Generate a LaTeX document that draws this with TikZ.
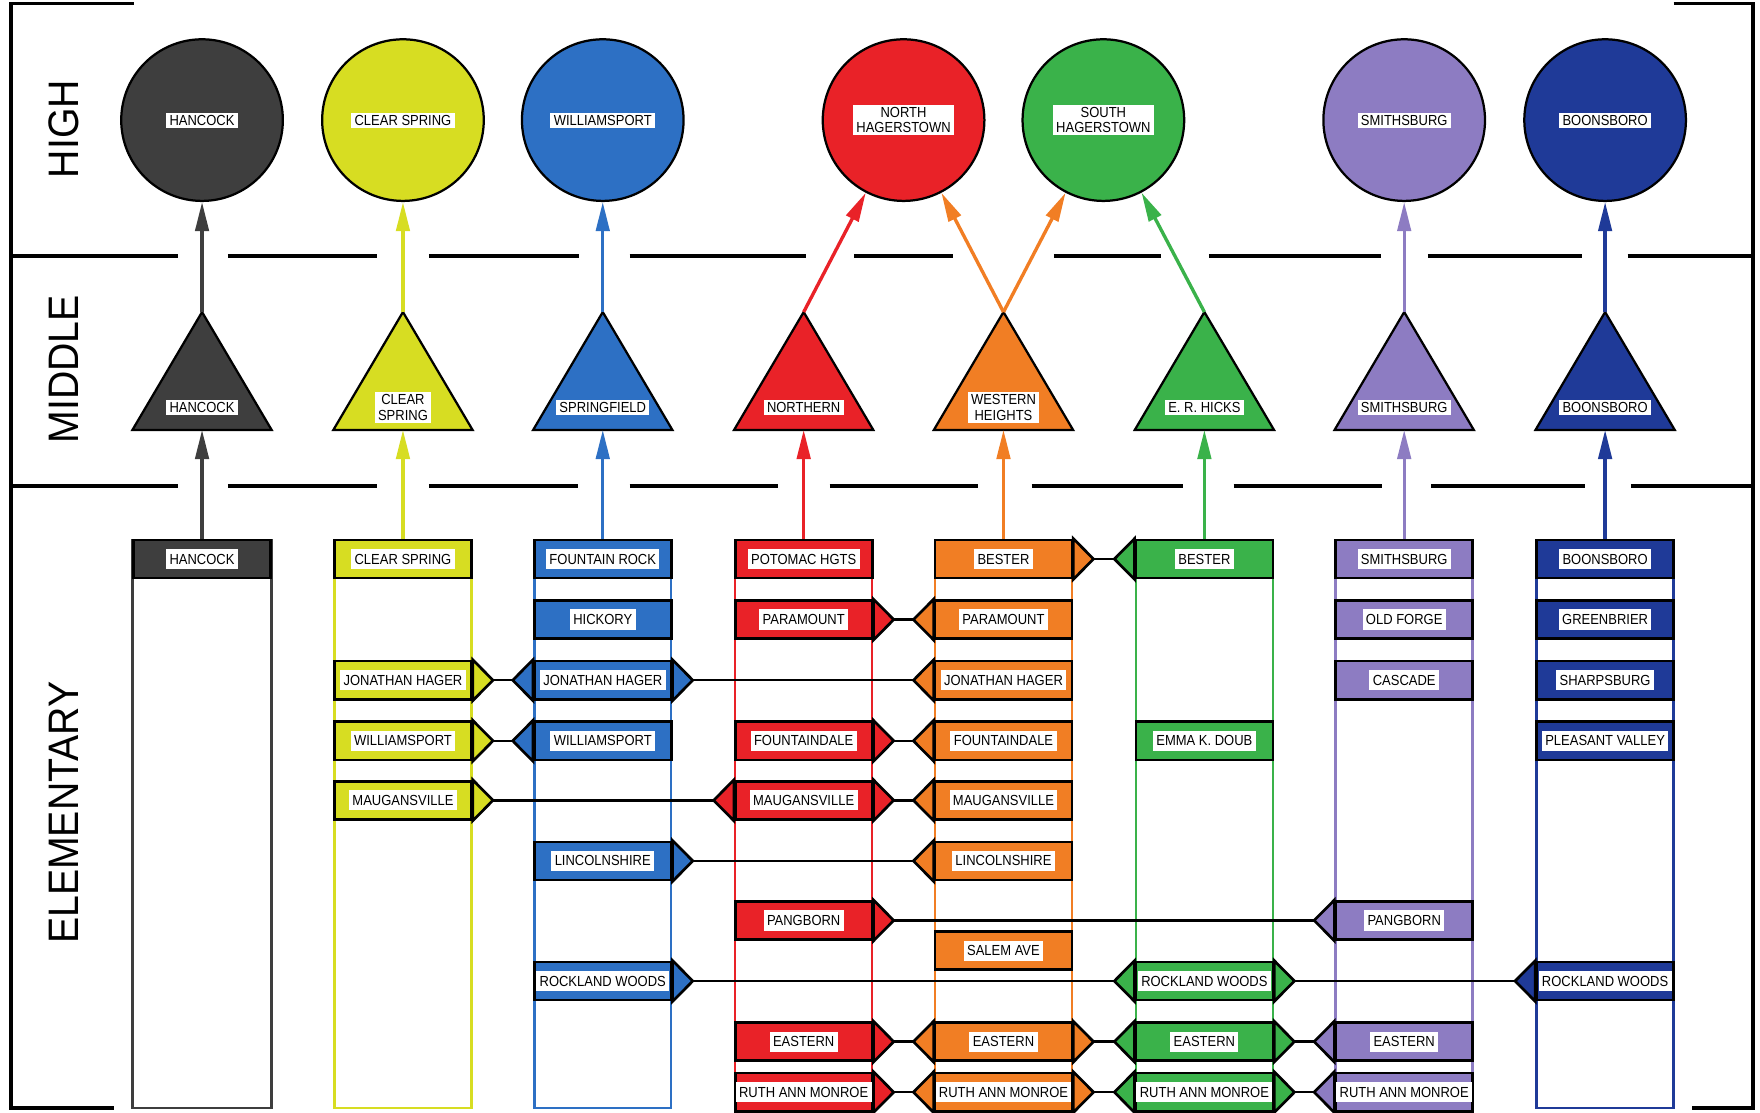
\documentclass[tikz,border=0pt]{standalone}
\usepackage{fontspec}
\setmainfont{Liberation Sans}
\newfontfamily\labfont[FakeStretch=0.89]{Liberation Sans}
\newfontfamily\bigfont[FakeStretch=0.92]{Liberation Sans}
\usetikzlibrary{arrows.meta,calc}

\definecolor{cHancock}{RGB}{62,62,62}
\definecolor{cClear}{RGB}{215,221,34}
\definecolor{cWill}{RGB}{45,112,196}
\definecolor{cNorth}{RGB}{233,34,40}
\definecolor{cWest}{RGB}{241,126,36}
\definecolor{cSouth}{RGB}{58,178,74}
\definecolor{cSmith}{RGB}{141,124,194}
\definecolor{cBoons}{RGB}{31,58,152}

\tikzset{every picture/.style={line width=0.75pt}}
\tikzset{
  sect/.style={line width=1.6pt},
  bigtext/.style={font=\bigfont\fontsize{19}{21}\selectfont, rotate=90, inner sep=0pt},
  hs/.style={circle, draw=black, line width=1pt, minimum size=72pt, inner sep=0pt},
  ms/.style={draw=black, line width=1pt, line join=miter},
  wl/.style={fill=white, inner xsep=1.5pt, inner ysep=1pt, align=center, font=\labfont\fontsize{6.5}{7}\selectfont},
  ewl/.style={wl, inner ysep=2.2pt},
  ebox/.style={draw=black, line width=1.2pt, minimum width=61pt, minimum height=17pt, inner sep=0pt},
  colframe/.style={line width=1.1pt},
  tipbox/.style={draw=black, line width=1.2pt, line join=miter},
  link/.style={draw=black, line width=1.1pt},
  up/.style={line width=1.5pt, -{Triangle[length=13pt,width=6pt]}}
}

\begin{document}
\begin{tikzpicture}[x=0.5pt,y=0.5pt,yscale=-1,xscale=1]
\useasboundingbox (0,0) rectangle (1568,991);
\clip (0,0) rectangle (1568,991);

\draw [sect] (119,3) -- (10,3) -- (10,987) -- (102,987) ;
\draw [sect] (1491,3) -- (1562,3) -- (1562,987) -- (1507,987) ;

\draw [sect] (10,228) -- (159,228) ;
\draw [sect] (203,228) -- (336,228) ;
\draw [sect] (382,228) -- (516,228) ;
\draw [sect] (561,228) -- (718,228) ;
\draw [sect] (761,228) -- (849,228) ;
\draw [sect] (939,228) -- (1034,228) ;
\draw [sect] (1077,228) -- (1230,228) ;
\draw [sect] (1272,228) -- (1409,228) ;
\draw [sect] (1450,228) -- (1562,228) ;

\draw [sect] (10,433) -- (159,433) ;
\draw [sect] (203,433) -- (336,433) ;
\draw [sect] (382,433) -- (515,433) ;
\draw [sect] (561,433) -- (693,433) ;
\draw [sect] (739,433) -- (871,433) ;
\draw [sect] (919,433) -- (1054,433) ;
\draw [sect] (1099,433) -- (1231,433) ;
\draw [sect] (1275,433) -- (1412,433) ;
\draw [sect] (1453,433) -- (1562,433) ;

\node [bigtext] (lHigh) at (57,115) {HIGH};
\node [bigtext] (lMiddle) at (57,329) {MIDDLE};
\node [bigtext] (lElementary) at (57,724) {ELEMENTARY};

\node [hs, fill=cHancock, label={[wl]center:HANCOCK}] (hsHancock) at (180,107) {};
\node [hs, fill=cClear, label={[wl]center:CLEAR SPRING}] (hsClear) at (359,107) {};
\node [hs, fill=cWill, label={[wl]center:WILLIAMSPORT}] (hsWill) at (537,107) {};
\node [hs, fill=cNorth, label={[wl]center:{NORTH\\HAGERSTOWN}}] (hsNorth) at (805,107) {};
\node [hs, fill=cSouth, label={[wl]center:{SOUTH\\HAGERSTOWN}}] (hsSouth) at (983,107) {};
\node [hs, fill=cSmith, label={[wl]center:SMITHSBURG}] (hsSmith) at (1251,107) {};
\node [hs, fill=cBoons, label={[wl]center:BOONSBORO}] (hsBoons) at (1430,107) {};

\coordinate (msHancockTop) at (180,278) ;
\coordinate (msHancockBase) at (180,383) ;
\coordinate (msClearTop) at (359,278) ;
\coordinate (msClearBase) at (359,383) ;
\coordinate (msSpringTop) at (537,278) ;
\coordinate (msSpringBase) at (537,383) ;
\coordinate (msNorthernTop) at (716,278) ;
\coordinate (msNorthernBase) at (716,383) ;
\coordinate (msWesternTop) at (894,278) ;
\coordinate (msWesternBase) at (894,383) ;
\coordinate (msHicksTop) at (1073,278) ;
\coordinate (msHicksBase) at (1073,383) ;
\coordinate (msSmithTop) at (1251,278) ;
\coordinate (msSmithBase) at (1251,383) ;
\coordinate (msBoonsTop) at (1430,278) ;
\coordinate (msBoonsBase) at (1430,383) ;

\filldraw [ms, fill=cHancock] (118,383) -- (msHancockTop) -- (242,383) -- cycle ;
\filldraw [ms, fill=cClear] (297,383) -- (msClearTop) -- (421,383) -- cycle ;
\filldraw [ms, fill=cWill] (475,383) -- (msSpringTop) -- (599,383) -- cycle ;
\filldraw [ms, fill=cNorth] (654,383) -- (msNorthernTop) -- (778,383) -- cycle ;
\filldraw [ms, fill=cWest] (832,383) -- (msWesternTop) -- (956,383) -- cycle ;
\filldraw [ms, fill=cSouth] (1011,383) -- (msHicksTop) -- (1135,383) -- cycle ;
\filldraw [ms, fill=cSmith] (1189,383) -- (msSmithTop) -- (1313,383) -- cycle ;
\filldraw [ms, fill=cBoons] (1368,383) -- (msBoonsTop) -- (1492,383) -- cycle ;

\node [wl] (msHancock) at (180,363) {HANCOCK};
\node [wl] (msClear) at (359,363) {CLEAR\\SPRING};
\node [wl] (msSpring) at (537,363) {SPRINGFIELD};
\node [wl] (msNorthern) at (716,363) {NORTHERN};
\node [wl] (msWestern) at (894,363) {WESTERN\\HEIGHTS};
\node [wl] (msHicks) at (1073,363) {E. R. HICKS};
\node [wl] (msSmith) at (1251,363) {SMITHSBURG};
\node [wl] (msBoons) at (1430,363) {BOONSBORO};

\draw [colframe, cHancock] (118,481) rectangle (242,987) ;
\draw [colframe, cClear] (298,481) rectangle (420,987) ;
\draw [colframe, cWill] (476,481) rectangle (598,987) ;
\draw [colframe, cNorth] (655,481) rectangle (777,987) ;
\draw [colframe, cWest] (833,481) rectangle (955,987) ;
\draw [colframe, cSouth] (1012,481) rectangle (1134,987) ;
\draw [colframe, cSmith] (1190,481) rectangle (1312,987) ;
\draw [colframe, cBoons] (1369,481) rectangle (1491,987) ;

\node [ebox, fill=cHancock, label={[ewl]center:HANCOCK}] (eHHancock) at (180,498) {};

\node [ebox, fill=cClear, label={[ewl]center:CLEAR SPRING}] (eCClearSpring) at (359,498) {};
\node [ebox, fill=cClear, label={[ewl]center:JONATHAN HAGER}] (eCJonathan) at (359,606) {};
\node [ebox, fill=cClear, label={[ewl]center:WILLIAMSPORT}] (eCWilliamsport) at (359,660) {};
\node [ebox, fill=cClear, label={[ewl]center:MAUGANSVILLE}] (eCMaugansville) at (359,713) {};

\node [ebox, fill=cWill, label={[ewl]center:FOUNTAIN ROCK}] (eWFountainRock) at (537,498) {};
\node [ebox, fill=cWill, label={[ewl]center:HICKORY}] (eWHickory) at (537,552) {};
\node [ebox, fill=cWill, label={[ewl]center:JONATHAN HAGER}] (eWJonathan) at (537,606) {};
\node [ebox, fill=cWill, label={[ewl]center:WILLIAMSPORT}] (eWWilliamsport) at (537,660) {};
\node [ebox, fill=cWill, label={[ewl]center:LINCOLNSHIRE}] (eWLincolnshire) at (537,767) {};
\node [ebox, fill=cWill, label={[ewl]center:ROCKLAND WOODS}] (eWRockland) at (537,874) {};

\node [ebox, fill=cNorth, label={[ewl]center:POTOMAC HGTS}] (eNPotomac) at (716,498) {};
\node [ebox, fill=cNorth, label={[ewl]center:PARAMOUNT}] (eNParamount) at (716,552) {};
\node [ebox, fill=cNorth, label={[ewl]center:FOUNTAINDALE}] (eNFountaindale) at (716,660) {};
\node [ebox, fill=cNorth, label={[ewl]center:MAUGANSVILLE}] (eNMaugansville) at (716,713) {};
\node [ebox, fill=cNorth, label={[ewl]center:PANGBORN}] (eNPangborn) at (716,820) {};
\node [ebox, fill=cNorth, label={[ewl]center:EASTERN}] (eNEastern) at (716,928) {};
\node [ebox, fill=cNorth, label={[ewl]center:RUTH ANN MONROE}] (eNMonroe) at (716,973) {};

\node [ebox, fill=cWest, label={[ewl]center:BESTER}] (eOBester) at (894,498) {};
\node [ebox, fill=cWest, label={[ewl]center:PARAMOUNT}] (eOParamount) at (894,552) {};
\node [ebox, fill=cWest, label={[ewl]center:JONATHAN HAGER}] (eOJonathan) at (894,606) {};
\node [ebox, fill=cWest, label={[ewl]center:FOUNTAINDALE}] (eOFountaindale) at (894,660) {};
\node [ebox, fill=cWest, label={[ewl]center:MAUGANSVILLE}] (eOMaugansville) at (894,713) {};
\node [ebox, fill=cWest, label={[ewl]center:LINCOLNSHIRE}] (eOLincolnshire) at (894,767) {};
\node [ebox, fill=cWest, label={[ewl]center:SALEM AVE}] (eOSalem) at (894,847) {};
\node [ebox, fill=cWest, label={[ewl]center:EASTERN}] (eOEastern) at (894,928) {};
\node [ebox, fill=cWest, label={[ewl]center:RUTH ANN MONROE}] (eOMonroe) at (894,973) {};

\node [ebox, fill=cSouth, label={[ewl]center:BESTER}] (eSBester) at (1073,498) {};
\node [ebox, fill=cSouth, label={[ewl]center:EMMA K. DOUB}] (eSDoub) at (1073,660) {};
\node [ebox, fill=cSouth, label={[ewl]center:ROCKLAND WOODS}] (eSRockland) at (1073,874) {};
\node [ebox, fill=cSouth, label={[ewl]center:EASTERN}] (eSEastern) at (1073,928) {};
\node [ebox, fill=cSouth, label={[ewl]center:RUTH ANN MONROE}] (eSMonroe) at (1073,973) {};

\node [ebox, fill=cSmith, label={[ewl]center:SMITHSBURG}] (eMSmithsburg) at (1251,498) {};
\node [ebox, fill=cSmith, label={[ewl]center:OLD FORGE}] (eMOldForge) at (1251,552) {};
\node [ebox, fill=cSmith, label={[ewl]center:CASCADE}] (eMCascade) at (1251,606) {};
\node [ebox, fill=cSmith, label={[ewl]center:PANGBORN}] (eMPangborn) at (1251,820) {};
\node [ebox, fill=cSmith, label={[ewl]center:EASTERN}] (eMEastern) at (1251,928) {};
\node [ebox, fill=cSmith, label={[ewl]center:RUTH ANN MONROE}] (eMMonroe) at (1251,973) {};

\node [ebox, fill=cBoons, label={[ewl]center:BOONSBORO}] (eBBoonsboro) at (1430,498) {};
\node [ebox, fill=cBoons, label={[ewl]center:GREENBRIER}] (eBGreenbrier) at (1430,552) {};
\node [ebox, fill=cBoons, label={[ewl]center:SHARPSBURG}] (eBSharpsburg) at (1430,606) {};
\node [ebox, fill=cBoons, label={[ewl]center:PLEASANT VALLEY}] (eBPleasant) at (1430,660) {};
\node [ebox, fill=cBoons, label={[ewl]center:ROCKLAND WOODS}] (eBRockland) at (1430,874) {};

\filldraw [tipbox, fill=cClear] (eCJonathan.north east) -- ($(eCJonathan.east)+(18,0)$) -- (eCJonathan.south east) -- cycle ;
\filldraw [tipbox, fill=cClear] (eCWilliamsport.north east) -- ($(eCWilliamsport.east)+(18,0)$) -- (eCWilliamsport.south east) -- cycle ;
\filldraw [tipbox, fill=cClear] (eCMaugansville.north east) -- ($(eCMaugansville.east)+(18,0)$) -- (eCMaugansville.south east) -- cycle ;
\filldraw [tipbox, fill=cWill] (eWJonathan.north west) -- ($(eWJonathan.west)-(18,0)$) -- (eWJonathan.south west) -- cycle ;
\filldraw [tipbox, fill=cWill] (eWJonathan.north east) -- ($(eWJonathan.east)+(18,0)$) -- (eWJonathan.south east) -- cycle ;
\filldraw [tipbox, fill=cWill] (eWWilliamsport.north west) -- ($(eWWilliamsport.west)-(18,0)$) -- (eWWilliamsport.south west) -- cycle ;
\filldraw [tipbox, fill=cWill] (eWLincolnshire.north east) -- ($(eWLincolnshire.east)+(18,0)$) -- (eWLincolnshire.south east) -- cycle ;
\filldraw [tipbox, fill=cWill] (eWRockland.north east) -- ($(eWRockland.east)+(18,0)$) -- (eWRockland.south east) -- cycle ;
\filldraw [tipbox, fill=cNorth] (eNParamount.north east) -- ($(eNParamount.east)+(18,0)$) -- (eNParamount.south east) -- cycle ;
\filldraw [tipbox, fill=cNorth] (eNFountaindale.north east) -- ($(eNFountaindale.east)+(18,0)$) -- (eNFountaindale.south east) -- cycle ;
\filldraw [tipbox, fill=cNorth] (eNMaugansville.north west) -- ($(eNMaugansville.west)-(18,0)$) -- (eNMaugansville.south west) -- cycle ;
\filldraw [tipbox, fill=cNorth] (eNMaugansville.north east) -- ($(eNMaugansville.east)+(18,0)$) -- (eNMaugansville.south east) -- cycle ;
\filldraw [tipbox, fill=cNorth] (eNPangborn.north east) -- ($(eNPangborn.east)+(18,0)$) -- (eNPangborn.south east) -- cycle ;
\filldraw [tipbox, fill=cNorth] (eNEastern.north east) -- ($(eNEastern.east)+(18,0)$) -- (eNEastern.south east) -- cycle ;
\filldraw [tipbox, fill=cNorth] (eNMonroe.north east) -- ($(eNMonroe.east)+(18,0)$) -- (eNMonroe.south east) -- cycle ;
\filldraw [tipbox, fill=cWest] (eOBester.north east) -- ($(eOBester.east)+(18,0)$) -- (eOBester.south east) -- cycle ;
\filldraw [tipbox, fill=cWest] (eOParamount.north west) -- ($(eOParamount.west)-(18,0)$) -- (eOParamount.south west) -- cycle ;
\filldraw [tipbox, fill=cWest] (eOJonathan.north west) -- ($(eOJonathan.west)-(18,0)$) -- (eOJonathan.south west) -- cycle ;
\filldraw [tipbox, fill=cWest] (eOFountaindale.north west) -- ($(eOFountaindale.west)-(18,0)$) -- (eOFountaindale.south west) -- cycle ;
\filldraw [tipbox, fill=cWest] (eOMaugansville.north west) -- ($(eOMaugansville.west)-(18,0)$) -- (eOMaugansville.south west) -- cycle ;
\filldraw [tipbox, fill=cWest] (eOLincolnshire.north west) -- ($(eOLincolnshire.west)-(18,0)$) -- (eOLincolnshire.south west) -- cycle ;
\filldraw [tipbox, fill=cWest] (eOEastern.north west) -- ($(eOEastern.west)-(18,0)$) -- (eOEastern.south west) -- cycle ;
\filldraw [tipbox, fill=cWest] (eOEastern.north east) -- ($(eOEastern.east)+(18,0)$) -- (eOEastern.south east) -- cycle ;
\filldraw [tipbox, fill=cWest] (eOMonroe.north west) -- ($(eOMonroe.west)-(18,0)$) -- (eOMonroe.south west) -- cycle ;
\filldraw [tipbox, fill=cWest] (eOMonroe.north east) -- ($(eOMonroe.east)+(18,0)$) -- (eOMonroe.south east) -- cycle ;
\filldraw [tipbox, fill=cSouth] (eSBester.north west) -- ($(eSBester.west)-(18,0)$) -- (eSBester.south west) -- cycle ;
\filldraw [tipbox, fill=cSouth] (eSRockland.north west) -- ($(eSRockland.west)-(18,0)$) -- (eSRockland.south west) -- cycle ;
\filldraw [tipbox, fill=cSouth] (eSRockland.north east) -- ($(eSRockland.east)+(18,0)$) -- (eSRockland.south east) -- cycle ;
\filldraw [tipbox, fill=cSouth] (eSEastern.north west) -- ($(eSEastern.west)-(18,0)$) -- (eSEastern.south west) -- cycle ;
\filldraw [tipbox, fill=cSouth] (eSEastern.north east) -- ($(eSEastern.east)+(18,0)$) -- (eSEastern.south east) -- cycle ;
\filldraw [tipbox, fill=cSouth] (eSMonroe.north west) -- ($(eSMonroe.west)-(18,0)$) -- (eSMonroe.south west) -- cycle ;
\filldraw [tipbox, fill=cSouth] (eSMonroe.north east) -- ($(eSMonroe.east)+(18,0)$) -- (eSMonroe.south east) -- cycle ;
\filldraw [tipbox, fill=cSmith] (eMPangborn.north west) -- ($(eMPangborn.west)-(18,0)$) -- (eMPangborn.south west) -- cycle ;
\filldraw [tipbox, fill=cSmith] (eMEastern.north west) -- ($(eMEastern.west)-(18,0)$) -- (eMEastern.south west) -- cycle ;
\filldraw [tipbox, fill=cSmith] (eMMonroe.north west) -- ($(eMMonroe.west)-(18,0)$) -- (eMMonroe.south west) -- cycle ;
\filldraw [tipbox, fill=cBoons] (eBRockland.north west) -- ($(eBRockland.west)-(18,0)$) -- (eBRockland.south west) -- cycle ;

\draw [link] ($(eOBester.east)+(18,0)$) -- ($(eSBester.west)-(18,0)$) ;
\draw [link] ($(eNParamount.east)+(18,0)$) -- ($(eOParamount.west)-(18,0)$) ;
\draw [link] ($(eCJonathan.east)+(18,0)$) -- ($(eWJonathan.west)-(18,0)$) ;
\draw [link] ($(eWJonathan.east)+(18,0)$) -- ($(eOJonathan.west)-(18,0)$) ;
\draw [link] ($(eCWilliamsport.east)+(18,0)$) -- ($(eWWilliamsport.west)-(18,0)$) ;
\draw [link] ($(eNFountaindale.east)+(18,0)$) -- ($(eOFountaindale.west)-(18,0)$) ;
\draw [link] ($(eCMaugansville.east)+(18,0)$) -- ($(eNMaugansville.west)-(18,0)$) ;
\draw [link] ($(eNMaugansville.east)+(18,0)$) -- ($(eOMaugansville.west)-(18,0)$) ;
\draw [link] ($(eWLincolnshire.east)+(18,0)$) -- ($(eOLincolnshire.west)-(18,0)$) ;
\draw [link] ($(eNPangborn.east)+(18,0)$) -- ($(eMPangborn.west)-(18,0)$) ;
\draw [link] ($(eWRockland.east)+(18,0)$) -- ($(eSRockland.west)-(18,0)$) ;
\draw [link] ($(eSRockland.east)+(18,0)$) -- ($(eBRockland.west)-(18,0)$) ;
\draw [link] ($(eNEastern.east)+(18,0)$) -- ($(eOEastern.west)-(18,0)$) ;
\draw [link] ($(eOEastern.east)+(18,0)$) -- ($(eSEastern.west)-(18,0)$) ;
\draw [link] ($(eSEastern.east)+(18,0)$) -- ($(eMEastern.west)-(18,0)$) ;
\draw [link] ($(eNMonroe.east)+(18,0)$) -- ($(eOMonroe.west)-(18,0)$) ;
\draw [link] ($(eOMonroe.east)+(18,0)$) -- ($(eSMonroe.west)-(18,0)$) ;
\draw [link] ($(eSMonroe.east)+(18,0)$) -- ($(eMMonroe.west)-(18,0)$) ;

\draw [up, cHancock] (eHHancock.north) -- (msHancockBase) ;
\draw [up, cClear] (eCClearSpring.north) -- (msClearBase) ;
\draw [up, cWill] (eWFountainRock.north) -- (msSpringBase) ;
\draw [up, cNorth] (eNPotomac.north) -- (msNorthernBase) ;
\draw [up, cWest] (eOBester.north) -- (msWesternBase) ;
\draw [up, cSouth] (eSBester.north) -- (msHicksBase) ;
\draw [up, cSmith] (eMSmithsburg.north) -- (msSmithBase) ;
\draw [up, cBoons] (eBBoonsboro.north) -- (msBoonsBase) ;

\draw [up, cHancock] (msHancockTop) -- (hsHancock) ;
\draw [up, cClear] (msClearTop) -- (hsClear) ;
\draw [up, cWill] (msSpringTop) -- (hsWill) ;
\draw [up, cNorth] (msNorthernTop) -- (hsNorth) ;
\draw [up, cWest] (msWesternTop) -- (hsNorth) ;
\draw [up, cWest] (msWesternTop) -- (hsSouth) ;
\draw [up, cSouth] (msHicksTop) -- (hsSouth) ;
\draw [up, cSmith] (msSmithTop) -- (hsSmith) ;
\draw [up, cBoons] (msBoonsTop) -- (hsBoons) ;

\end{tikzpicture}
\end{document}
